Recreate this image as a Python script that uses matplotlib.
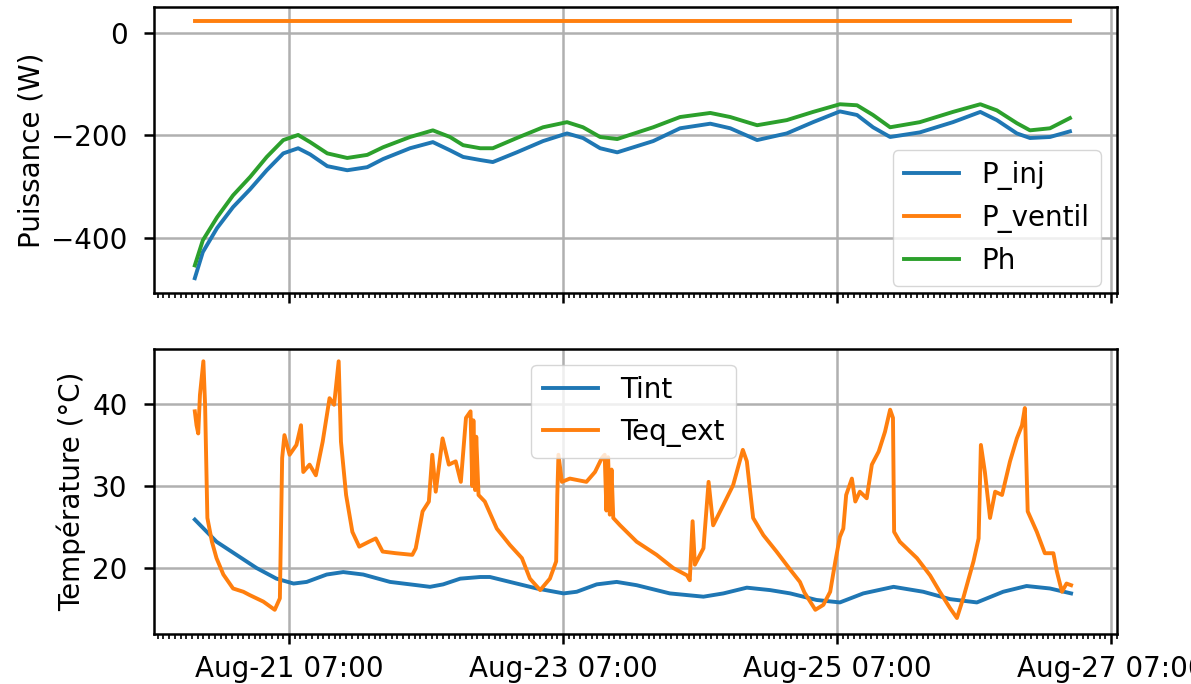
import matplotlib
matplotlib.use('Agg')
import matplotlib.pyplot as plt
import matplotlib.dates as mdates
import pandas as pd

# Start of the record, all hours below are counted from here
start = pd.Timestamp('2021-08-20 14:00')

# Power (W)
p_hours = [0.5, 1.9, 4.4, 7.2, 10.2, 13.1, 16.0, 18.6, 20.7, 23.7, 27.2, 30.7, 33.5,
           38.2, 42.2, 45.2, 47.5, 50.5, 52.7, 56.9, 61.5, 65.7, 68.5, 71.5, 74.5,
           80.8, 85.5, 90.8, 94.3, 99.0, 104.2, 108.8, 113.5, 116.5, 119.3, 122.3,
           127.5, 133.3, 138.1, 141.0, 144.5, 146.8, 150.3, 153.8]
p_inj = [-479, -428, -381, -340, -305, -268, -235, -225, -237, -260, -268, -262, -246,
         -225, -213, -229, -242, -248, -252, -233, -211, -196, -205, -225, -233,
         -211, -186, -177, -186, -209, -196, -174, -153, -160, -184, -203,
         -194, -174, -154, -170, -196, -205, -203, -192]
ph = [-454, -405, -360, -317, -281, -242, -209, -199, -213, -235, -244, -238, -223,
      -203, -190, -203, -219, -225, -225, -205, -184, -174, -184, -203, -207,
      -184, -164, -156, -164, -180, -170, -154, -139, -141, -160, -184,
      -174, -154, -139, -151, -176, -190, -186, -166]
ventil_hours = [0.5, 153.8]
p_ventil = [24, 24]

# Temperatures (degC)
tint_hours = [0.5, 4.3, 7.8, 11.3, 14.8, 17.8, 20.1, 23.6, 26.5, 30.0, 34.7, 39.4, 41.7,
              44.0, 47.0, 50.5, 52.2, 55.7, 60.4, 65.1, 67.4, 70.9, 74.4, 77.9, 83.7,
              89.6, 93.1, 97.2, 101.3, 104.8, 109.4, 113.5, 117.6, 122.9, 128.1,
              132.8, 137.5, 142.1, 146.2, 150.3, 154.0]
tint = [25.9, 23.2, 21.6, 20.0, 18.7, 18.1, 18.3, 19.2, 19.5, 19.2, 18.3, 17.9, 17.7,
        18.0, 18.7, 18.9, 18.9, 18.3, 17.5, 16.9, 17.1, 18.0, 18.3, 17.9, 16.9,
        16.5, 16.9, 17.6, 17.3, 16.9, 16.1, 15.8, 16.9, 17.7, 17.1,
        16.2, 15.8, 17.1, 17.8, 17.5, 16.9]

teq_hours = [0.5, 0.8, 1.1, 1.4, 2.0, 2.3, 2.7, 3.5, 4.3, 5.5, 7.2, 9.0, 10.1, 12.5,
             14.5, 15.4, 15.8, 16.2, 17.1, 18.3, 19.1, 19.5, 20.6, 21.7, 22.9, 24.1,
             24.9, 25.7, 26.1, 27.0, 28.1, 29.3, 31.0, 32.2, 33.4, 35.7, 38.6, 39.2,
             40.4, 41.5, 42.1, 42.7, 43.9, 45.0, 46.2, 47.1, 48.0, 48.8, 49.1, 49.3,
             49.6, 49.8, 50.2, 51.3, 53.4, 55.7, 57.8, 59.2, 61.0, 62.7, 63.8, 64.0,
             64.2, 64.8, 66.2, 69.1, 70.6, 71.8, 72.3, 72.6, 72.9, 73.2, 73.5, 73.8,
             75.0, 77.9, 81.4, 84.3, 86.7, 87.2, 87.7, 88.1, 89.6, 90.5, 91.3, 93.1,
             94.8, 96.5, 97.2, 98.3, 100.1, 102.4, 104.8, 106.5, 107.3, 109.2, 110.6,
             111.8, 112.7, 113.5, 114.1, 114.6, 115.6, 116.2, 117.0, 118.2, 119.1,
             120.3, 121.4, 122.3, 122.8, 123.0, 124.0, 127.0, 129.3, 131.0, 132.8,
             134.0, 135.1, 136.9, 137.8, 138.2, 138.9, 139.8, 140.7, 141.9, 143.3,
             144.5, 145.4, 145.9, 146.4, 148.0, 149.4, 150.9, 151.5, 152.4, 153.2, 154.0]
teq_ext = [39.1, 37.4, 36.4, 41.1, 45.2, 39.9, 26.1, 23.2, 21.2, 19.2, 17.5, 17.1, 16.7, 15.9,
           14.9, 16.3, 33.4, 36.2, 33.8, 35.0, 37.4, 31.7, 32.6, 31.3, 35.4, 40.7,
           39.9, 45.2, 35.4, 28.9, 24.4, 22.6, 23.2, 23.6, 22.0, 21.8, 21.6, 22.4,
           26.9, 28.1, 33.8, 29.3, 35.8, 32.6, 33.0, 30.5, 38.3, 39.1, 30.0, 38.0,
           29.5, 36.0, 28.9, 28.1, 24.8, 22.8, 21.2, 18.7, 17.3, 18.7, 20.8, 28.9,
           33.8, 30.5, 30.9, 30.5, 31.7, 33.4, 33.8, 27.0, 33.5, 26.5, 32.0, 26.1,
           25.2, 23.2, 21.6, 20.0, 19.1, 18.5, 25.7, 20.4, 22.4, 30.5, 25.2, 27.7,
           30.1, 34.4, 33.0, 26.1, 24.0, 22.0, 19.8, 18.3, 17.0, 14.9, 15.5,
           17.1, 20.8, 23.8, 24.8, 28.9, 30.9, 28.1, 29.3, 28.5, 32.6,
           34.2, 36.6, 39.3, 38.3, 24.4, 23.2, 21.2, 19.1, 17.1, 15.1,
           13.9, 16.3, 20.8, 23.6, 35.0, 31.7, 26.1, 29.3, 28.9, 33.0,
           35.8, 37.4, 39.5, 26.9, 24.4, 21.8, 21.8, 19.6, 17.1, 18.1, 17.9]

tick_dates = ['2021-08-21 07:00', '2021-08-23 07:00', '2021-08-25 07:00', '2021-08-27 07:00']


def to_dates(hours):
    return start + pd.to_timedelta(hours, unit='h')


plt.rcParams.update({
    'font.size': 20,
    'axes.linewidth': 1.8,
    'lines.linewidth': 2.8,
    'grid.linewidth': 1.8,
    'grid.color': '#b0b0b0',
    'xtick.major.size': 7,
    'xtick.major.width': 1.8,
    'xtick.minor.size': 3.5,
    'xtick.minor.width': 1.2,
    'ytick.major.size': 7,
    'ytick.major.width': 1.8,
    'xtick.major.pad': 8,
    'ytick.major.pad': 12,
    'legend.fontsize': 20,
})

fig = plt.figure(figsize=(11.91, 6.84), dpi=100)
ax1 = fig.add_axes([0.1293, 0.5716, 0.8086, 0.4181])
ax2 = fig.add_axes([0.1293, 0.0731, 0.8086, 0.4167], sharex=ax1)

ax1.plot(to_dates(p_hours), p_inj, label='P_inj')
ax1.plot(to_dates(ventil_hours), p_ventil, label='P_ventil')
ax1.plot(to_dates(p_hours), ph, label='Ph')
ax1.set_ylabel('Puissance (W)')
ax1.set_ylim(-508, 51)
ax1.set_yticks([-400, -200, 0])
ax1.grid(True)
ax1.legend(loc='lower right', bbox_to_anchor=(0.983, 0.0245), borderaxespad=0)
ax1.tick_params(axis='x', labelbottom=False)

ax2.plot(to_dates(tint_hours), tint, label='Tint')
ax2.plot(to_dates(teq_hours), teq_ext, label='Teq_ext')
ax2.set_ylabel('Température (°C)')
ax2.set_ylim(11.95, 46.7)
ax2.set_yticks([20, 30, 40])
ax2.grid(True)
ax2.legend(loc='upper center', bbox_to_anchor=(0.498, 0.944), borderaxespad=0)

ax2.set_xlim(start + pd.Timedelta(hours=-6.65), start + pd.Timedelta(hours=162.05))
ax2.set_xticks(pd.to_datetime(tick_dates))
ax2.xaxis.set_major_formatter(mdates.DateFormatter('%b-%d %H:%M'))
ax2.xaxis.set_minor_locator(mdates.HourLocator())

fig.savefig('out.png', dpi=100)
